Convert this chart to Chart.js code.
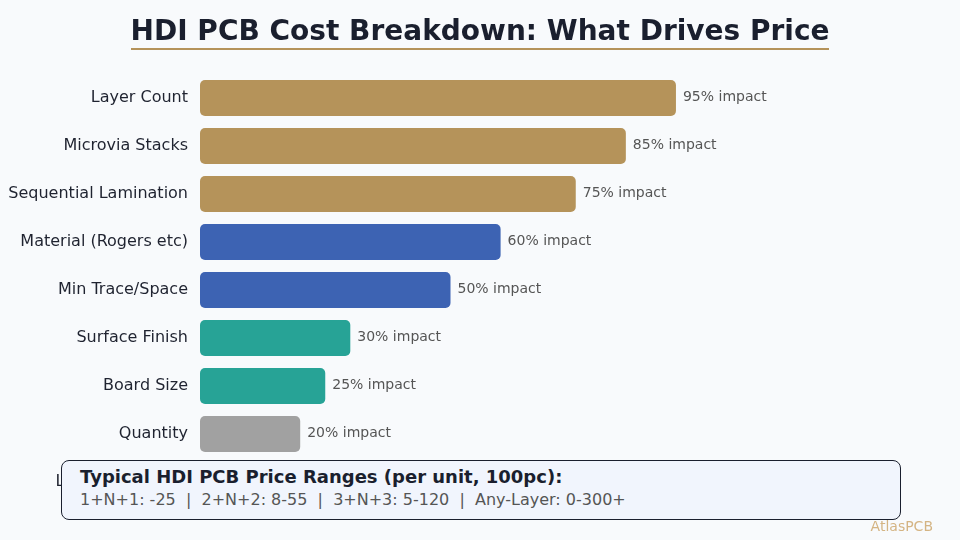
<!DOCTYPE html>
<html>
<head>
<meta charset="utf-8">
<script src="https://cdn.jsdelivr.net/npm/chart.js@4"></script>
<style>
  html, body { margin: 0; padding: 0; background: #f8fafc; }
  body { width: 960px; height: 540px; position: relative; overflow: hidden; font-family: "DejaVu Sans", sans-serif; }
  #title { position: absolute; left: 0; top: 14px; width: 960px; text-align: center; }
  #title span { display: inline-block; font-size: 28px; font-weight: bold; color: #1a1f2e; border-bottom: 2px solid #b5935a; padding-bottom: 1px; line-height: 33px; }
  #chartWrap { position: absolute; left: 0; top: 0; width: 960px; height: 540px; }
  #note { position: absolute; left: 61px; top: 460px; width: 840px; height: 60px; background: #f1f5fd; border: 1px solid #1a1f2e; border-radius: 8px; box-sizing: border-box; }
  #note .h { position: absolute; left: 18px; top: 5px; font-size: 18px; font-weight: bold; color: #1a1f2e; }
  #note .s { position: absolute; left: 18px; top: 29px; font-size: 16px; color: #555; white-space: pre; }
  #mark { position: absolute; right: 27px; top: 518px; font-size: 14px; color: #d4b483; }
</style>
</head>
<body>
<div id="chartWrap"><canvas id="bars" width="960" height="540"></canvas></div>
<div id="title"><span>HDI PCB Cost Breakdown: What Drives Price</span></div>
<div id="note">
  <div class="h">Typical HDI PCB Price Ranges (per unit, 100pc):</div>
  <div class="s">1+N+1: -25  |  2+N+2: 8-55  |  3+N+3: 5-120  |  Any-Layer: 0-300+</div>
</div>
<div id="mark">AtlasPCB</div>
<script>
const factors = ['Layer Count', 'Microvia Stacks', 'Sequential Lamination', 'Material (Rogers etc)',
                 'Min Trace/Space', 'Surface Finish', 'Board Size', 'Quantity', 'Lead Time (Fast)'];
const impact = [95, 85, 75, 60, 50, 30, 25, 20, 15];
const barColors = ['#b5935a', '#b5935a', '#b5935a', '#3d63b3', '#3d63b3', '#27a396', '#27a396', '#a1a1a1', '#a1a1a1'];

const valueLabels = {
    id: 'valueLabels',
    afterDatasetsDraw(chart) {
        const ctx = chart.ctx;
        const meta = chart.getDatasetMeta(0);
        ctx.save();
        ctx.font = '14px "DejaVu Sans", sans-serif';
        ctx.fillStyle = '#555555';
        ctx.textBaseline = 'middle';
        meta.data.forEach((bar, i) => {
            ctx.fillText(impact[i] + '% impact', bar.x + 7, bar.y - 1);
        });
        ctx.restore();
    }
};

const chart = new Chart(document.getElementById('bars'), {
    type: 'bar',
    data: {
        labels: factors,
        datasets: [{
            data: impact,
            backgroundColor: barColors,
            borderRadius: 5,
            borderSkipped: false,
            barPercentage: 0.75,
            categoryPercentage: 1
        }]
    },
    options: {
        indexAxis: 'y',
        responsive: false,
        animation: false,
        layout: { padding: { top: 74, bottom: 34, left: 0, right: 259 } },
        plugins: { legend: { display: false }, tooltip: { enabled: false } },
        scales: {
            x: { min: 0, max: 100, display: false },
            y: {
                grid: { display: false, drawTicks: false },
                border: { display: false },
                afterFit(scale) { scale.width = 200; },
                ticks: {
                    padding: 12,
                    color: '#1f2330',
                    font: { family: '"DejaVu Sans", sans-serif', size: 16 }
                }
            }
        }
    },
    plugins: [valueLabels]
});
</script>
</body>
</html>
